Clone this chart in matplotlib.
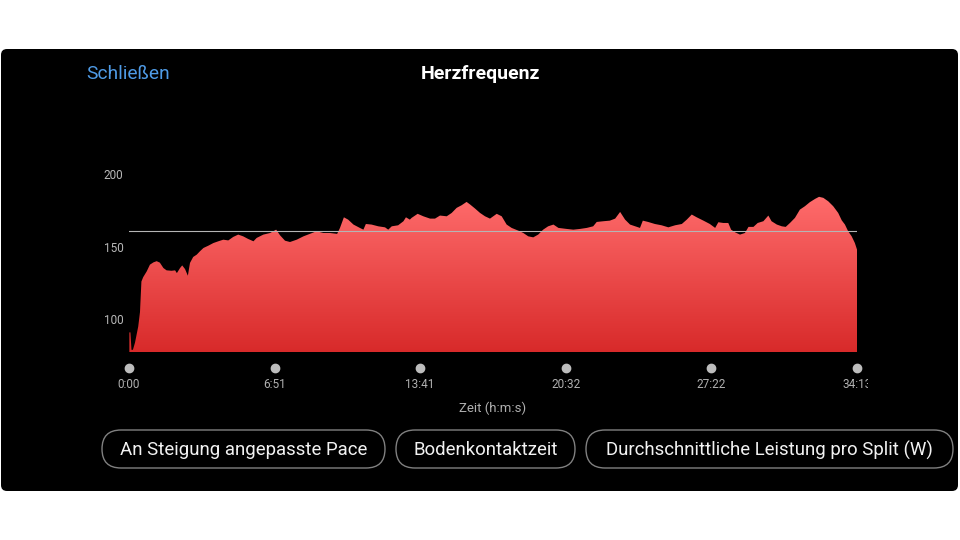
import numpy as np
import matplotlib
matplotlib.use('Agg')
import matplotlib.pyplot as plt
from matplotlib.patches import FancyBboxPatch
from matplotlib.colors import LinearSegmentedColormap
from matplotlib.transforms import Bbox

plt.rcParams['font.family'] = ['Roboto', 'DejaVu Sans']

# heart rate samples (seconds, bpm)
time_s = [1, 4, 7, 11, 17, 26, 31, 35, 40, 50, 59, 69, 78, 87, 97, 106, 120, 130,
          135, 144, 150, 158, 166, 172, 181, 191, 200, 210, 224, 238, 252, 266,
          280, 294, 308, 322, 336, 351, 360, 379, 398, 415, 426, 440, 454, 473,
          492, 510, 529, 548, 567, 587, 595, 606, 618, 633, 651, 661, 668, 684,
          703, 722, 731, 741, 759, 774, 781, 792, 797, 814, 830, 849, 863, 877,
          896, 910, 924, 938, 952, 962, 976, 990, 1004, 1018, 1037, 1051, 1065,
          1079, 1098, 1112, 1126, 1140, 1154, 1168, 1182, 1197, 1211, 1234,
          1253, 1272, 1291, 1309, 1319, 1338, 1356, 1371, 1385, 1399, 1413,
          1441, 1449, 1464, 1483, 1502, 1521, 1540, 1559, 1573, 1587, 1601,
          1620, 1638, 1653, 1662, 1676, 1690, 1698, 1709, 1723, 1737, 1747,
          1761, 1773, 1789, 1803, 1812, 1827, 1841, 1852, 1864, 1878, 1892,
          1906, 1920, 1935, 1946, 1958, 1972, 1986, 2000, 2010, 2019, 2028,
          2038, 2047, 2053]
bpm = [91, 91, 79, 79, 84, 95, 105, 126, 129, 133, 137.6, 139.2, 140, 139, 135.3,
       133.7, 133.4, 133.7, 131.8, 135.3, 137.1, 134.6, 130, 138.8, 142.9, 144.5,
       146.8, 149.1, 150.7, 152.5, 153.7, 154.8, 154.3, 156.7, 158.3, 157.1,
       155.3, 153.7, 156, 158.3, 159.4, 161.7, 157.8, 154.1, 153.2, 154.8, 157.1,
       158.8, 160.6, 159.4, 159.4, 158.8, 162.9, 170.2, 168.6, 165.2, 162.9,
       161.7, 165.6, 165.2, 164, 163.3, 161.7, 164, 164.7, 167.5, 170.2, 168.6,
       169.8, 172.6, 170.9, 169.3, 169.3, 171.4, 170.9, 173.2, 176.7, 178.5,
       180.8, 179, 176.2, 173.2, 170.9, 169.3, 172.6, 170.9, 165.2, 162.9, 161,
       159.4, 157.1, 156.4, 158.3, 161.7, 164, 165.2, 162.9, 162.2, 161.7, 162.2,
       162.9, 164, 167, 167.5, 167.9, 169.3, 173.9, 168.6, 165.2, 162.9, 167.9,
       167, 165.6, 164.7, 163.3, 164.7, 165.6, 168.6, 172.1, 170.2, 167.9, 165.6,
       162.9, 166.8, 166.3, 166.3, 161.7, 159.9, 158.3, 159.4, 163.6, 163.6,
       166.3, 167.5, 171.4, 167.5, 165.2, 164, 163.6, 166.3, 169.8, 175.5, 177.8,
       180.6, 182.9, 184.3, 183.6, 181.2, 177.8, 173.2, 168.1, 165.2, 160.6,
       157.1, 152.5, 148]
avg_bpm = 161
y_min, y_max = 77.5, 200
duration = 2053
tick_secs = [0, 411, 821, 1232, 1642, 2053]
tick_labels = ['0:00', '6:51', '13:41', '20:32', '27:22', '34:13']
y_ticks = [100, 150, 200]
buttons = ['An Steigung angepasste Pace', 'Bodenkontaktzeit',
           'Durchschnittliche Leistung pro Split (W)']

W, H = 960, 540
fig = plt.figure(figsize=(9.6, 5.4), dpi=100)
fig.patch.set_facecolor('white')

# background layer in pixel coordinates
bg = fig.add_axes([0, 0, 1, 1])
bg.set_xlim(0, W)
bg.set_ylim(H, 0)
bg.axis('off')
bg.add_patch(FancyBboxPatch((1, 49), 957, 442, boxstyle='round,pad=0,rounding_size=6',
                            fc='black', ec='none'))
bg.text(86, 74, 'Schließen', color='#4f9be6', fontsize=13.8, ha='left', va='center')
bg.text(480, 74, 'Herzfrequenz', color='white', fontsize=14, fontweight='semibold',
        ha='center', va='center')

btn_x = [(102, 385), (396, 575), (586, 953)]
for (x0, x1), label in zip(btn_x, buttons):
    bg.add_patch(FancyBboxPatch((x0, 430), x1 - x0, 38,
                                boxstyle='round,pad=0,rounding_size=19',
                                fc='none', ec='#808080', lw=1))
    bg.text((x0 + x1) / 2, 450, label, color='#f2f2f2', fontsize=13.4,
            ha='center', va='center')

# chart
ax = fig.add_axes([129 / W, 1 - 352 / H, (857 - 129) / W, (352 - 174) / H])
ax.patch.set_alpha(0)
ax.set_xlim(0, duration)
ax.set_ylim(y_min, y_max)

fill = ax.fill_between(time_s, bpm, y_min, color='none', lw=0)
cmap = LinearSegmentedColormap.from_list('hr', ['#d82a2a', '#ff6c6c'])
grad = np.linspace(0, 1, 256).reshape(-1, 1)
im = ax.imshow(grad, extent=[0, duration, y_min, max(bpm)], origin='lower',
               cmap=cmap, aspect='auto', zorder=1)
im.set_clip_path(fill.get_paths()[0], transform=ax.transData)

ax.axhline(avg_bpm, color='#b5b5b5', lw=0.8, zorder=2)

for s in ax.spines.values():
    s.set_visible(False)

ax.set_yticks(y_ticks)
ax.tick_params(axis='y', length=0, pad=4, labelsize=8.5, labelcolor='#b8b8b8')
ax.set_xticks(tick_secs, tick_labels)
ax.tick_params(axis='x', length=0, pad=19, labelsize=8.5, labelcolor='#b0b0b0')
ax.plot(tick_secs, [-0.09] * len(tick_secs), 'o', ms=6, color='#bdbdbd',
        transform=ax.get_xaxis_transform(), clip_on=False)
ax.set_xlabel('Zeit (h:m:s)', color='#b0b0b0', fontsize=9.5, labelpad=7)

# last time label is cut off at the right in the app
last = ax.xaxis.get_major_ticks()[-1].label1
last.set_clip_on(True)
last.set_clip_box(Bbox.from_extents(0, 0, 868, 540))

fig.savefig('out.png', dpi=100, facecolor='white')
